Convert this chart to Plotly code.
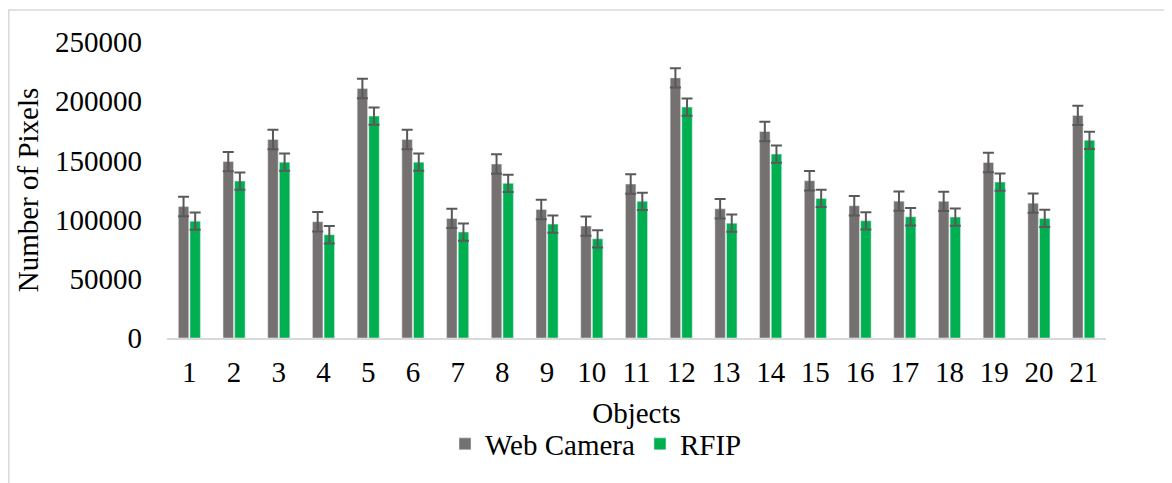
import plotly.graph_objects as go

objects = [str(i) for i in range(1, 22)]
web_camera = [111000, 149000, 167700, 98200, 210700, 167700, 101000, 146900, 108600, 94500,
              130000, 219700, 109100, 174400, 132800, 111700, 115600, 115400, 148200, 113900, 188000]
rfip = [98700, 132500, 148500, 87200, 187400, 148500, 89500, 130600, 96200, 83800,
        115400, 195000, 97000, 155300, 117900, 99000, 102400, 102100, 131700, 101000, 167000]
web_err = [8200] * 21
rfip_err = [7300] * 21
y_ticks = [0, 50000, 100000, 150000, 200000, 250000]

FONT = "Liberation Serif"
FS = 29
OFF = 8  # page body margin
W, H = 1172 - OFF, 483 - OFF
L, R, T, B = 167 - OFF, 66, 42 - OFF, 145
pw, ph = W - L - R, H - T - B


def px(x):  # screen x -> paper
    return (x - OFF - L) / pw


def py(y):  # screen y -> paper
    return (H - B - (y - OFF)) / ph


fig = go.Figure()
fig.add_trace(go.Bar(
    name="Web Camera", x=objects, y=web_camera, marker_color="#767171",
    error_y=dict(type="data", array=web_err, visible=True, color="#595959", thickness=2, width=5.5),
))
fig.add_trace(go.Bar(
    name="RFIP", x=objects, y=rfip, marker_color="#00B050",
    error_y=dict(type="data", array=rfip_err, visible=True, color="#595959", thickness=2, width=5.5),
))

fig.update_layout(
    width=W, height=H,
    margin=dict(l=L, r=R, t=T, b=B, autoexpand=False),
    paper_bgcolor="white", plot_bgcolor="white",
    barmode="group", bargap=0.48, bargroupgap=0.1,
    font=dict(family=FONT, size=FS, color="black"),
    showlegend=True,
    legend=dict(orientation="h", x=px(596), xanchor="center", y=py(444), yanchor="middle",
                font=dict(family=FONT, size=FS), itemwidth=30, traceorder="normal"),
    xaxis=dict(
        showline=True, linecolor="#D9D9D9", linewidth=2, showgrid=False, zeroline=False,
        ticks="", tickfont=dict(family=FONT, size=FS), ticklabelstandoff=7,
        title=dict(text="Objects", font=dict(family=FONT, size=FS), standoff=16),
    ),
    yaxis=dict(
        range=[0, 250000], tickvals=y_ticks, ticktext=[str(v) for v in y_ticks],
        showline=False, showgrid=False, zeroline=False, ticks="",
        tickfont=dict(family=FONT, size=FS), ticklabelstandoff=24,
        title=dict(text="Number of Pixels", font=dict(family=FONT, size=FS), standoff=7),
    ),
    shapes=[dict(type="rect", xref="paper", yref="paper",
                 x0=px(OFF + 0.8), x1=px(1172 + 20), y0=py(483 + 20), y1=py(10),
                 line=dict(color="#D9D9D9", width=1.5), fillcolor="rgba(0,0,0,0)", layer="below")],
)

fig.write_html("out.html")
